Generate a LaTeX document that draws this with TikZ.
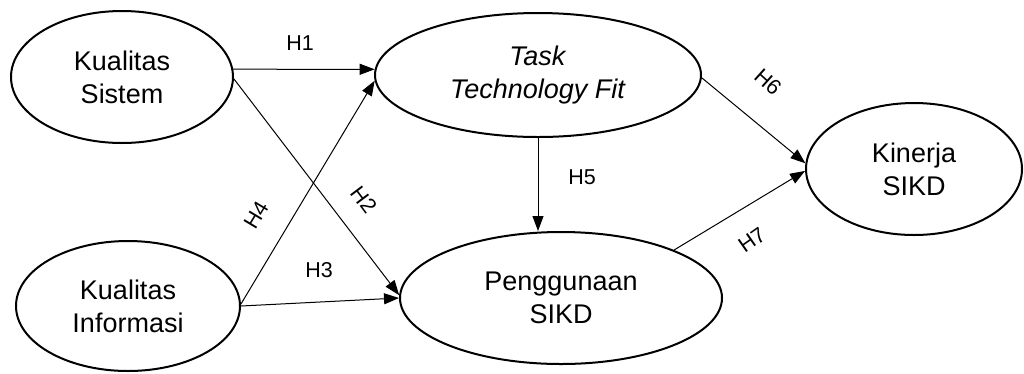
\documentclass[tikz,border=0pt]{standalone}
\usepackage{fontspec}
\setmainfont{Liberation Sans}
\usetikzlibrary{shapes.geometric,arrows.meta}
\begin{document}
\begin{tikzpicture}[x=1pt,y=-1pt,
  construct/.style={ellipse,draw,line width=2pt,inner sep=0pt,align=center,
    font=\fontsize{27}{33}\selectfont},
  link/.style={line width=1pt,-{Triangle[length=15pt,width=11pt]}},
  hlabel/.style={font=\fontsize{21.5}{24}\selectfont,inner sep=0pt}]
\useasboundingbox (0,0) rectangle (1024,373);

% latent constructs
\node[construct,minimum width=222pt,minimum height=132pt] (ks)  at (122,77)  {Kualitas\\Sistem};
\node[construct,minimum width=326pt,minimum height=124pt] (ttf) at (538,75)  {\textit{Task}\\\textit{Technology Fit}};
\node[construct,minimum width=216pt,minimum height=132pt] (kin) at (914,169) {Kinerja\\SIKD};
\node[construct,minimum width=224pt,minimum height=130pt] (ki)  at (128,306) {Kualitas\\Informasi};
\node[construct,minimum width=322pt,minimum height=132pt] (pen) at (561,298) {Penggunaan\\SIKD};

% hypothesised paths
\draw[link] (ks.4)   -- (ttf.178);
\draw[link] (ks.-1)  -- (pen.179);
\draw[link] (ki.0)   -- (pen.180);
\draw[link] (ki.1)   -- (ttf.182);
\draw[link] (ttf.south) -- (ttf.south |- pen.north);
\draw[link] (ttf.-1) -- (kin.177);
\draw[link] (pen.23) -- (kin.181);

% path labels
\node[hlabel] (h1) at (300,43) {H1};
\node[hlabel,rotate=-53] (h2) at (364,200) {H2};
\node[hlabel] (h3) at (319,270) {H3};
\node[hlabel,rotate=59] (h4) at (256,215) {H4};
\node[hlabel] (h5) at (582,177) {H5};
\node[hlabel,rotate=-42] (h6) at (768,82) {H6};
\node[hlabel,rotate=35] (h7) at (752,240) {H7};
\end{tikzpicture}
\end{document}
